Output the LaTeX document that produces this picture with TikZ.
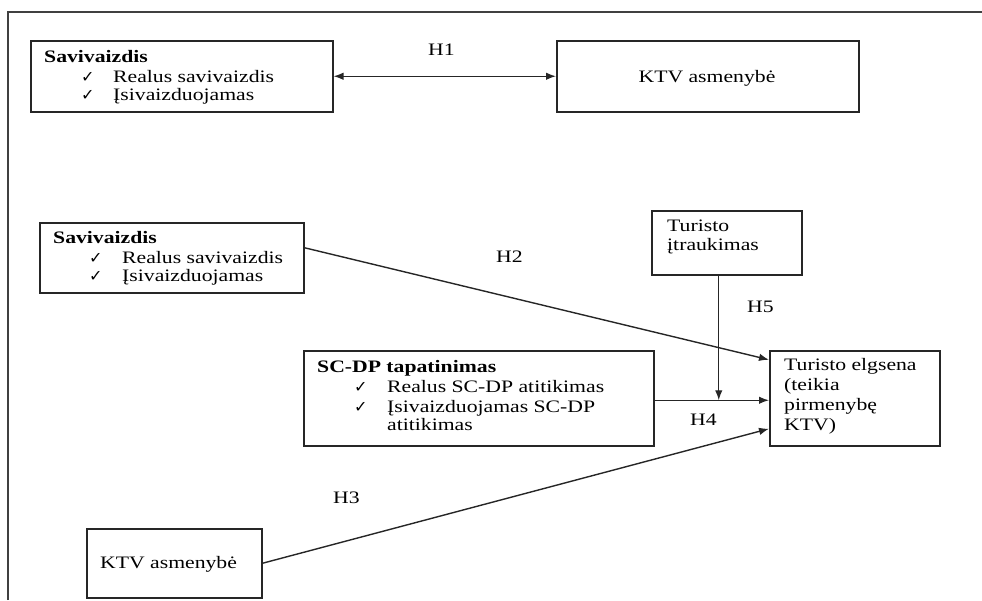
\documentclass[tikz,border=0pt]{standalone}
\usepackage{fontspec}
\setmainfont{Liberation Serif}[FakeStretch=1.24]
\newfontfamily\chkfont{DejaVu Sans}
\usetikzlibrary{arrows.meta}
\begin{document}
\begin{tikzpicture}[x=1pt,y=-1pt,
  box/.style={draw=black!85, line width=1.5pt, inner sep=0pt, anchor=north west},
  txt/.style={inner sep=0pt, anchor=base west, font=\fontsize{17.5}{19.5}\selectfont},
  btxt/.style={inner sep=0pt, anchor=base west, font=\fontsize{17.5}{19.5}\selectfont\bfseries},
  chk/.style={inner sep=0pt, anchor=base west, font=\chkfont\fontsize{16}{18}\selectfont},
  conn/.style={line width=1.4pt, draw=black!85},
  tip/.style={-{Latex[length=10pt,width=7.5pt]}}
]
\useasboundingbox (0,0) rectangle (982,600);
\coordinate (frameBL) at (8,600);
\coordinate (frameTL) at (8,12);
\coordinate (frameTR) at (982,12);
\draw[line width=1.7pt, draw=black!75] (frameBL) -- (frameTL) -- (frameTR);

% boxes
\node[box, minimum width=302pt, minimum height=71pt] (A) at (30,40) {};
\node[box, minimum width=302pt, minimum height=71pt] (B) at (556,40) {};
\node[box, minimum width=264pt, minimum height=70pt] (C) at (39,222) {};
\node[box, minimum width=150pt, minimum height=64pt] (D) at (651,210) {};
\node[box, minimum width=350pt, minimum height=95pt] (E) at (303,350) {};
\node[box, minimum width=170pt, minimum height=95pt] (F) at (769,350) {};
\node[box, minimum width=175pt, minimum height=69pt] (G) at (86,528) {};

% texts box A
\node[btxt] (a1) at (44,62) {Savivaizdis};
\node[chk] (ac1) at (81,82) {✓};
\node[txt] (a2) at (113,82) {Realus savivaizdis};
\node[chk] (ac2) at (81,100) {✓};
\node[txt] (a3) at (113,100) {Įsivaizduojamas};
% box B
\node[txt, anchor=base] (b1) at (707,82) {KTV asmenybė};
% box C
\node[btxt] (c1) at (53,243) {Savivaizdis};
\node[chk] (cc1) at (89,263) {✓};
\node[txt] (c2) at (122,263) {Realus savivaizdis};
\node[chk] (cc2) at (89,281) {✓};
\node[txt] (c3) at (122,281) {Įsivaizduojamas};
% box D
\node[txt] (d1) at (667,231) {Turisto};
\node[txt] (d2) at (667,250) {įtraukimas};
% box E
\node[btxt] (e1) at (317,372) {SC-DP tapatinimas};
\node[chk] (ec1) at (354,392) {✓};
\node[txt] (e2) at (387,392) {Realus SC-DP atitikimas};
\node[chk] (ec2) at (354,412) {✓};
\node[txt] (e3) at (387,412) {Įsivaizduojamas SC-DP};
\node[txt] (e4) at (387,430) {atitikimas};
% box F
\node[txt] (f1) at (784,370) {Turisto elgsena};
\node[txt] (f2) at (784,390) {(teikia};
\node[txt] (f3) at (784,410) {pirmenybę};
\node[txt] (f4) at (784,430) {KTV)};
% box G
\node[txt] (g1) at (100,568) {KTV asmenybė};

% hypothesis labels
\node[txt] (h1) at (428,55) {H1};
\node[txt] (h2) at (496,262) {H2};
\node[txt] (h3) at (333,503) {H3};
\node[txt] (h4) at (690,425) {H4};
\node[txt] (h5) at (747,312) {H5};

% connectors
\draw[conn, {Latex[length=10pt,width=7.5pt]}-{Latex[length=10pt,width=7.5pt]}] (A.east) -- (B.west);
\draw[conn, tip] ([yshift=10pt]C.east) -- ([yshift=38.5pt]F.west);
\draw[conn, tip] ([yshift=-2pt]E.east) -- ([yshift=-2pt]E.east -| F.west);
\draw[conn, tip] ([xshift=-8pt]D.south) -- ([xshift=-8pt,yshift=-2pt]D.south |- E.east);
\draw[conn, tip] (G.east) -- ([yshift=-30.5pt]F.west);
\end{tikzpicture}
\end{document}
